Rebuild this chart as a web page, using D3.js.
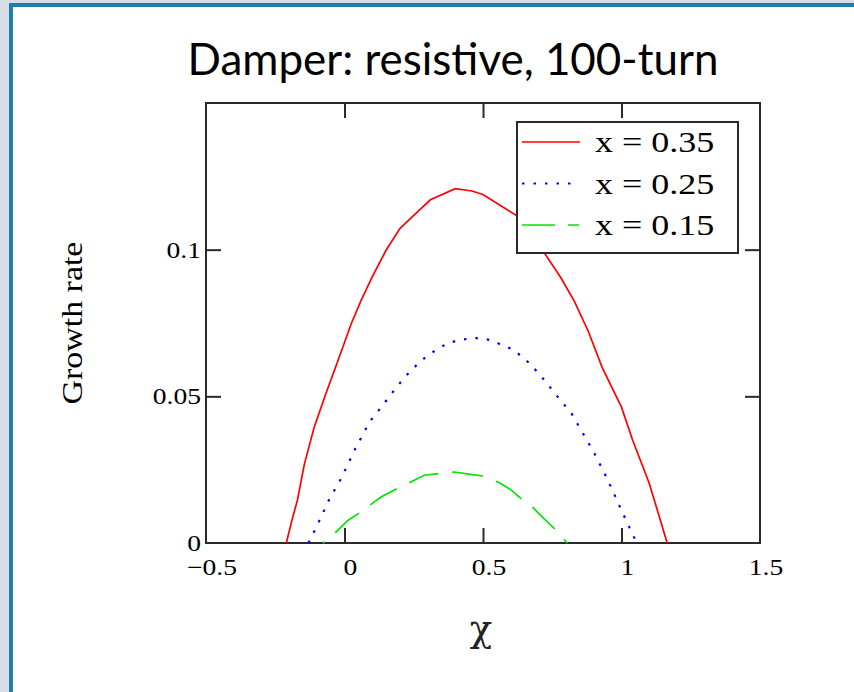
<!DOCTYPE html>
<html>
<head>
<meta charset="utf-8">
<script src="https://cdnjs.cloudflare.com/ajax/libs/d3/7.8.5/d3.min.js"></script>
<style>
body { margin:0; background:#fff; }
svg { display:block; }
</style>
</head>
<body>
<svg id="chart" width="854" height="692"></svg>
<script>
// growth rate vs chi, one curve per x value
var chiRed = [-0.21,-0.19,-0.17,-0.145,-0.11,-0.07,-0.01,0.025,0.06,0.1,0.15,0.2,0.25,0.31,0.4,0.46,0.5,0.62,0.72,0.78,0.83,0.88,0.93,1.0,1.04,1.1,1.165];
var grRed  = [0,0.0077,0.0146,0.0268,0.0393,0.0502,0.0657,0.0749,0.0827,0.0907,0.0998,0.1072,0.1117,0.117,0.1208,0.12,0.1188,0.1117,0.0991,0.0906,0.0824,0.0722,0.0599,0.0463,0.0351,0.0204,0];

var chiBlue = [-0.13,-0.1,-0.054,-0.012,0.036,0.09,0.14,0.19,0.24,0.3,0.37,0.41,0.45,0.49,0.53,0.57,0.61,0.67,0.72,0.77,0.82,0.86,0.9,0.95,1.0,1.055];
var grBlue  = [0,0.0057,0.0151,0.022,0.0316,0.0412,0.0472,0.0534,0.0589,0.064,0.068,0.0691,0.0697,0.0699,0.0691,0.0674,0.0659,0.0611,0.0557,0.0498,0.0441,0.0375,0.031,0.0216,0.0111,0];

var chiGreen = [-0.078,-0.036,0.012,0.05,0.09,0.132,0.183,0.234,0.288,0.342,0.396,0.456,0.504,0.558,0.6,0.642,0.678,0.72,0.762,0.804];
var grGreen  = [0,0.0032,0.0077,0.01,0.0128,0.0157,0.0182,0.0205,0.0231,0.0237,0.0242,0.0234,0.0228,0.0206,0.0182,0.0148,0.0123,0.0083,0.0046,0];

var xTicks = [-0.5,0,0.5,1,1.5];
var xTickLabels = ["\u22120.5","0","0.5","1","1.5"];
var yTicks = [0,0.05,0.1];
var yTickLabels = ["0","0.05","0.1"];
var legendLabels = ["x = 0.35","x = 0.25","x = 0.15"];

var svg = d3.select("#chart");
var serif = "'Liberation Serif','Times New Roman',serif";
var stretch = 1.2;   // the mathcad text looks wider than plain Times

// slide frame
svg.append("rect").attr("x",0).attr("y",0).attr("width",854).attr("height",692).style("fill","#d6dde4");
svg.append("rect").attr("x",9).attr("y",3).attr("width",845).attr("height",689).style("fill","#1d7eab");
svg.append("rect").attr("x",13).attr("y",7).attr("width",841).attr("height",685).style("fill","#ffffff");

// title
var title = svg.append("text")
    .attr("x",453).attr("y",75)
    .attr("text-anchor","middle")
    .style("font-family","Lato, 'Open Sans', sans-serif")
    .style("font-size","40px")
    .style("fill","#000")
    .text("Damper: resistive, 100-turn");
var tw = title.node().getComputedTextLength();
title.style("font-size", (40*531/tw)+"px");

var pLeft = 206, pRight = 760, pTop = 103, pBottom = 543;
var x = d3.scaleLinear().domain([-0.5,1.5]).range([pLeft,pRight]);
var y = d3.scaleLinear().domain([0,0.15]).range([pBottom,pTop]);

// inside ticks on all four sides
var inner = [0,0.5,1];
var innerY = [0.05,0.1];
svg.append("g").attr("transform","translate(0,"+pBottom+")")
    .call(d3.axisBottom(x).tickValues(inner).tickSizeInner(-15).tickSizeOuter(0).tickFormat(""));
svg.append("g").attr("transform","translate(0,"+pTop+")")
    .call(d3.axisTop(x).tickValues(inner).tickSizeInner(-15).tickSizeOuter(0).tickFormat(""));
svg.append("g").attr("transform","translate("+pLeft+",0)")
    .call(d3.axisLeft(y).tickValues(innerY).tickSizeInner(-15).tickSizeOuter(0).tickFormat(""));
svg.append("g").attr("transform","translate("+pRight+",0)")
    .call(d3.axisRight(y).tickValues(innerY).tickSizeInner(-15).tickSizeOuter(0).tickFormat(""));
svg.selectAll(".domain").remove();
svg.selectAll(".tick line").style("stroke","#2a2a2a").style("stroke-width",2);

svg.append("rect")
    .attr("x",pLeft).attr("y",pTop).attr("width",pRight-pLeft).attr("height",pBottom-pTop)
    .style("fill","none").style("stroke","#2a2a2a").style("stroke-width",2);

function wideText(px,py,str,size,anchor,rot,sx){
    var t = svg.append("text")
        .attr("transform","translate("+px+","+py+")"+(rot?" rotate("+rot+")":"")+" scale("+(sx||stretch)+",1)")
        .attr("text-anchor",anchor)
        .style("font-family",serif)
        .style("font-size",size+"px")
        .style("fill","#000")
        .text(str);
    return t;
}

// tick labels
xTicks.forEach(function(d,i){
    wideText(x(d)+6, 575, xTickLabels[i], 23, "middle");
});
yTicks.forEach(function(d,i){
    wideText(201, y(d)+8, yTickLabels[i], 23, "end");
});

// axis titles
wideText(82, 323, "Growth rate", 30, "middle", -90, 1.13);
svg.append("text")
    .attr("x",481).attr("y",641)
    .attr("text-anchor","middle")
    .style("font-family","'DejaVu Serif', serif")
    .style("font-size","37px")
    .style("fill","#222")
    .text("\u03c7");

// curves
var line = d3.line().x(function(d){return x(d[0]);}).y(function(d){return y(d[1]);});
var series = [
    {chi:chiRed, gr:grRed, color:"#ff0000", dash:null, off:0, w:1.7},
    {chi:chiBlue, gr:grBlue, color:"#0000ff", dash:"2.5,9", off:0, w:2.2},
    {chi:chiGreen, gr:grGreen, color:"#00e600", dash:"31,14", off:29, w:1.7}
];
series.forEach(function(s){
    var pts = s.chi.map(function(c,i){return [c, s.gr[i]];});
    svg.append("path")
        .datum(pts)
        .attr("d",line)
        .style("fill","none")
        .style("stroke",s.color)
        .style("stroke-width",s.w)
        .style("stroke-dasharray",s.dash)
        .style("stroke-dashoffset",s.off);
});

// legend
svg.append("rect")
    .attr("x",517).attr("y",122).attr("width",221).attr("height",131)
    .style("fill","#fff").style("stroke","#2a2a2a").style("stroke-width",2);
var legendDash = [null,"2.5,9","33,13"];
var legendEnd = [580,572,579];
legendLabels.forEach(function(lab,i){
    var ly = 142 + i*41.5;
    svg.append("line")
        .attr("x1",522).attr("x2",legendEnd[i]).attr("y1",ly).attr("y2",ly)
        .style("stroke",series[i].color).style("stroke-width",series[i].w)
        .style("stroke-dasharray",legendDash[i]);
    wideText(595, ly+10, lab, 30, "start");
});
</script>
</body>
</html>
